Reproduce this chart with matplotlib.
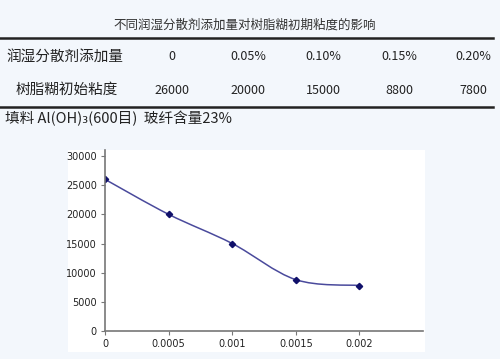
import matplotlib
matplotlib.use('Agg')
import matplotlib.pyplot as plt
from matplotlib.path import Path
from matplotlib.patches import PathPatch, Rectangle
import numpy as np

plt.rcParams['font.family'] = ['Noto Sans CJK SC', 'DejaVu Sans']

# table data
title = '不同润湿分散剂添加量对树脂糊初期粘度的影响'
row_labels = ['润湿分散剂添加量', '树脂糊初始粘度']
dose_labels = ['0', '0.05%', '0.10%', '0.15%', '0.20%']
visc_labels = ['26000', '20000', '15000', '8800', '7800']
note = '填料 Al(OH)₃(600目)  玻纤含量23%'

# chart data
dose = [0, 0.0005, 0.001, 0.0015, 0.002]
viscosity = [26000, 20000, 15000, 8800, 7800]
xticks = [0, 0.0005, 0.001, 0.0015, 0.002]
xtick_labels = ['0', '0.0005', '0.001', '0.0015', '0.002']
yticks = [0, 5000, 10000, 15000, 20000, 25000, 30000]

fig = plt.figure(figsize=(5, 3.59), dpi=100)
fig.patch.set_facecolor('#f3f7fc')

W, H = 500.0, 359.0
def fx(px):
    return px / W
def fy(py):
    return 1 - py / H

# table part
fig.text(fx(245), fy(25), title, ha='center', va='center', fontsize=9, color='#333333')
fig.add_artist(plt.Line2D([0, fx(493)], [fy(38), fy(38)], color='#222222', lw=1.8))
fig.add_artist(plt.Line2D([0, fx(493)], [fy(107), fy(107)], color='#222222', lw=1.8))
fig.text(fx(65), fy(57), row_labels[0], ha='center', va='center', fontsize=10.5, color='#222222')
fig.text(fx(67), fy(90), row_labels[1], ha='center', va='center', fontsize=10.5, color='#222222')
col_x = [172, 248, 323, 399, 473]
for cx, a, b in zip(col_x, dose_labels, visc_labels):
    fig.text(fx(cx), fy(57), a, ha='center', va='center', fontsize=9, color='#222222')
    fig.text(fx(cx), fy(90), b, ha='center', va='center', fontsize=9, color='#222222')
fig.text(fx(5), fy(118), note, ha='left', va='center', fontsize=10.5, color='#222222')

# white chart area
fig.add_artist(Rectangle((fx(68), fy(352)), fx(425) - fx(68), fy(150) - fy(352),
                         transform=fig.transFigure, facecolor='white', edgecolor='none',
                         zorder=-1))

ax = fig.add_axes([fx(105), fy(331), fx(423) - fx(105), fy(156) - fy(331)])
ax.set_zorder(2)
ax.set_facecolor('white')
ax.set_xlim(0, 0.0025)
ax.set_ylim(0, 30000)
for s in ['top', 'right']:
    ax.spines[s].set_visible(False)
for s in ['left', 'bottom']:
    ax.spines[s].set_color('#777777')
    ax.spines[s].set_linewidth(1.2)
ax.spines['left'].set_bounds(0, 31000)
ax.set_xticks(xticks)
ax.set_xticklabels(xtick_labels)
ax.set_yticks(yticks)
ax.tick_params(direction='out', length=3, width=0.8, color='#777777',
               labelsize=7, labelcolor='#222222', pad=3)
for lab in ax.get_xticklabels() + ax.get_yticklabels():
    lab.set_family(['DejaVu Sans'])

# smoothed line (bezier through the points)
xs = np.array(dose)
ys = np.array(viscosity, dtype=float)
verts = [(xs[0], ys[0])]
codes = [Path.MOVETO]
n = len(xs)
t = 1 / 6.0
for i in range(n - 1):
    p0 = (xs[max(i - 1, 0)], ys[max(i - 1, 0)])
    p1 = (xs[i], ys[i])
    p2 = (xs[i + 1], ys[i + 1])
    p3 = (xs[min(i + 2, n - 1)], ys[min(i + 2, n - 1)])
    c1 = (p1[0] + (p2[0] - p0[0]) * t, p1[1] + (p2[1] - p0[1]) * t)
    c2 = (p2[0] - (p3[0] - p1[0]) * t, p2[1] - (p3[1] - p1[1]) * t)
    verts += [c1, c2, p2]
    codes += [Path.CURVE4] * 3
ax.add_patch(PathPatch(Path(verts, codes), facecolor='none', edgecolor='#4a4a9c', lw=1.1))
ax.plot(dose, viscosity, linestyle='none', marker='D', markersize=3.2, color='#10106a')

fig.savefig('out.png', dpi=100, facecolor=fig.get_facecolor())
